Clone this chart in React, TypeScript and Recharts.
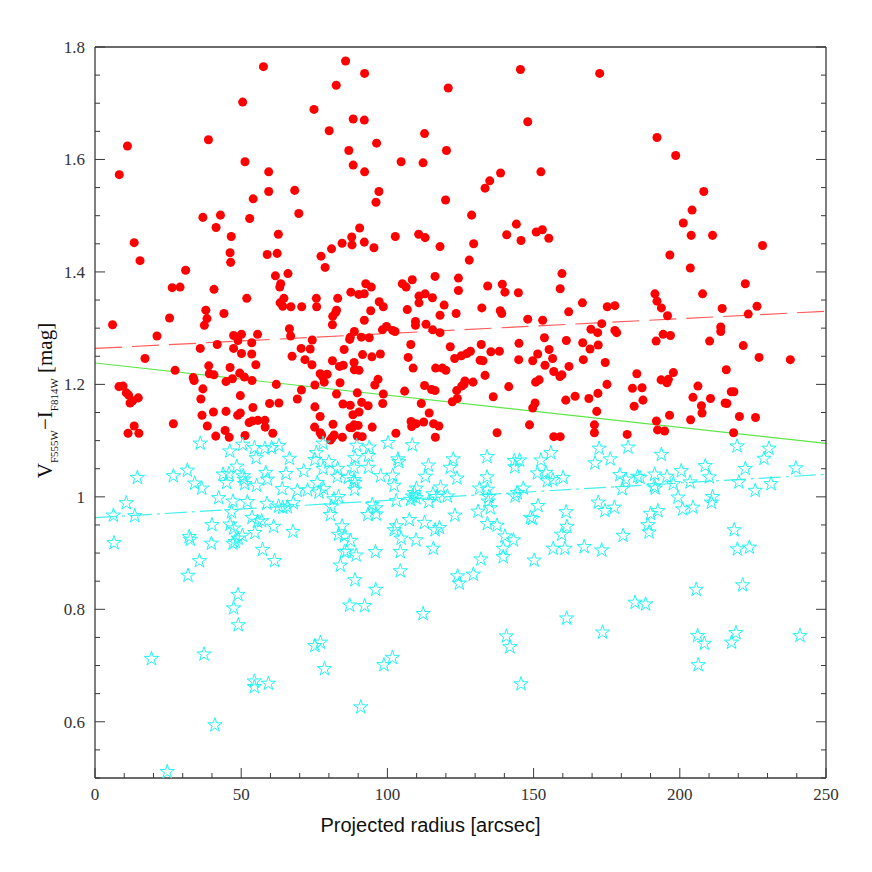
import React from 'react';
import { ScatterChart, Scatter, XAxis, YAxis, ZAxis, ReferenceLine } from 'recharts';

// Red giant branch stars: [projected radius (arcsec), V-I (mag)]
const redStars: [number, number][] = [
  [57.6, 1.765], [85.7, 1.775], [82.5, 1.732], [50.5, 1.702], [74.9, 1.689], [80.1, 1.651], [11.1, 1.624], [38.8, 1.635],
  [8.3, 1.573], [51.3, 1.596], [59.4, 1.578], [59.4, 1.543], [68.3, 1.545], [54.1, 1.53], [69.7, 1.504], [36.9, 1.497],
  [42.9, 1.501], [52.9, 1.495], [41.4, 1.479], [46.6, 1.463], [62.7, 1.467], [13.4, 1.452], [84.5, 1.451], [46.2, 1.434],
  [62.3, 1.433], [58.9, 1.431], [77.3, 1.428], [80.9, 1.441], [15.4, 1.42], [46.4, 1.417], [78.7, 1.408], [31.0, 1.403],
  [61.7, 1.393], [66.0, 1.397], [63.5, 1.379], [63.2, 1.373], [26.4, 1.372], [29.1, 1.373], [40.7, 1.369],
  [92.2, 1.753], [145.5, 1.76], [120.8, 1.727], [88.3, 1.672], [92.1, 1.67], [148.0, 1.667], [112.7, 1.646], [96.3, 1.629],
  [86.8, 1.616], [120.2, 1.616], [104.7, 1.596], [112.2, 1.594], [88.3, 1.59], [92.2, 1.578], [138.7, 1.576], [152.5, 1.578],
  [135.0, 1.562], [133.4, 1.549], [97.1, 1.543], [96.1, 1.524], [119.9, 1.528], [128.8, 1.501], [144.1, 1.485], [90.5, 1.478],
  [87.8, 1.462], [87.9, 1.448], [92.1, 1.453], [95.4, 1.443], [102.7, 1.463], [110.7, 1.467], [112.9, 1.461], [118.0, 1.445],
  [129.5, 1.45], [140.8, 1.466], [145.7, 1.456], [150.9, 1.471], [153.0, 1.475], [155.2, 1.46], [128.0, 1.421], [159.7, 1.397],
  [116.3, 1.392], [124.3, 1.389], [92.6, 1.379], [94.5, 1.373], [105.1, 1.379], [106.4, 1.373], [108.5, 1.386], [124.3, 1.367],
  [134.3, 1.375], [139.3, 1.378], [140.2, 1.364], [144.8, 1.363], [159.1, 1.37], [87.5, 1.364], [90.2, 1.36], [92.1, 1.361],
  [110.8, 1.357], [112.9, 1.361],
  [172.6, 1.753], [192.2, 1.639], [198.6, 1.607], [208.2, 1.543], [204.2, 1.51], [201.2, 1.487], [203.9, 1.465], [211.2, 1.465],
  [228.3, 1.447], [196.6, 1.43], [203.6, 1.407], [222.4, 1.379], [191.5, 1.361], [207.8, 1.361],
  [51.9, 1.353], [63.3, 1.345], [64.2, 1.339], [64.6, 1.353], [67.0, 1.338], [70.7, 1.338], [75.7, 1.353], [75.8, 1.338],
  [83.0, 1.353], [82.6, 1.332], [82.3, 1.328], [81.3, 1.321], [81.2, 1.306], [6.0, 1.306], [37.9, 1.332], [38.3, 1.317],
  [37.4, 1.305], [44.1, 1.326], [25.5, 1.318], [21.2, 1.286], [47.4, 1.287], [50.1, 1.289], [48.9, 1.278], [47.4, 1.264],
  [50.1, 1.255], [55.6, 1.289], [53.6, 1.274], [53.6, 1.254], [55.0, 1.235], [41.8, 1.271], [36.0, 1.264], [66.5, 1.299],
  [66.9, 1.286], [74.3, 1.279], [70.5, 1.264], [73.6, 1.263], [67.4, 1.25], [71.8, 1.244], [74.2, 1.235], [81.2, 1.242],
  [83.6, 1.232], [84.9, 1.234], [85.2, 1.262], [17.1, 1.246], [27.4, 1.225], [38.9, 1.233], [39.1, 1.219], [40.7, 1.217],
  [46.2, 1.23], [49.5, 1.22], [51.1, 1.213], [33.6, 1.212], [33.9, 1.207], [44.8, 1.205], [47.0, 1.21], [53.7, 1.207],
  [62.0, 1.2], [75.2, 1.199], [77.0, 1.219], [77.9, 1.213], [78.4, 1.204], [79.4, 1.218], [83.8, 1.203], [8.2, 1.196],
  [9.6, 1.197], [10.7, 1.185], [11.5, 1.181], [12.0, 1.167], [12.9, 1.171], [14.8, 1.176], [36.9, 1.192], [36.2, 1.174],
  [49.7, 1.18], [69.2, 1.174], [70.6, 1.19], [82.6, 1.183], [62.9, 1.167], [59.7, 1.166], [84.8, 1.165], [75.2, 1.16],
  [54.0, 1.159], [36.6, 1.145], [40.5, 1.151], [44.8, 1.152], [48.8, 1.145], [49.7, 1.149], [77.0, 1.143], [52.7, 1.132],
  [53.8, 1.135], [55.7, 1.136], [58.1, 1.136], [58.2, 1.124], [60.8, 1.113], [75.1, 1.124], [77.0, 1.114], [77.5, 1.11],
  [81.4, 1.129], [81.8, 1.11], [81.1, 1.105], [80.5, 1.101], [84.6, 1.106], [26.8, 1.13], [38.4, 1.126], [44.5, 1.118],
  [41.3, 1.108], [45.9, 1.106], [51.3, 1.109], [13.4, 1.126], [11.3, 1.113], [15.0, 1.113],
  [97.2, 1.347], [98.6, 1.338], [94.3, 1.331], [92.1, 1.314], [106.8, 1.333], [110.8, 1.345], [115.4, 1.354], [119.4, 1.341],
  [118.0, 1.323], [123.5, 1.326], [132.3, 1.336], [138.6, 1.331], [139.1, 1.326], [148.0, 1.316], [153.1, 1.314], [162.0, 1.329],
  [166.7, 1.345], [169.6, 1.298], [109.6, 1.312], [109.6, 1.305], [113.2, 1.307], [115.5, 1.297], [118.0, 1.292], [99.7, 1.303],
  [98.3, 1.297], [101.8, 1.296], [102.6, 1.294], [88.7, 1.294], [87.3, 1.284], [87.1, 1.28], [91.1, 1.284], [93.8, 1.283],
  [153.7, 1.283], [161.2, 1.278], [166.8, 1.274], [145.0, 1.273], [132.1, 1.271], [121.5, 1.267], [108.0, 1.271], [91.5, 1.253],
  [94.7, 1.249], [97.6, 1.254], [107.1, 1.248], [123.0, 1.246], [125.3, 1.251], [127.2, 1.255], [128.4, 1.259], [131.7, 1.243],
  [132.7, 1.242], [135.4, 1.258], [138.3, 1.259], [144.9, 1.244], [149.7, 1.242], [151.4, 1.254], [155.3, 1.262], [156.5, 1.246],
  [153.9, 1.234], [156.9, 1.223], [159.0, 1.214], [159.7, 1.217], [162.1, 1.232], [167.0, 1.244], [169.3, 1.263], [88.6, 1.239],
  [88.7, 1.226], [90.3, 1.225], [108.8, 1.229], [116.5, 1.229], [118.8, 1.229], [120.0, 1.225], [133.4, 1.216], [96.8, 1.209],
  [95.7, 1.199], [112.7, 1.198], [115.1, 1.191], [116.3, 1.189], [105.9, 1.188], [123.7, 1.189], [125.4, 1.197], [126.2, 1.2],
  [126.5, 1.206], [129.3, 1.204], [141.5, 1.196], [150.7, 1.204], [151.9, 1.208], [89.7, 1.185], [98.6, 1.183], [164.2, 1.179],
  [161.0, 1.172], [168.9, 1.175], [136.2, 1.178], [123.9, 1.175], [122.2, 1.169], [111.6, 1.166], [98.4, 1.166], [87.3, 1.163],
  [91.2, 1.168], [93.4, 1.162], [90.3, 1.151], [88.2, 1.146], [150.5, 1.167], [149.7, 1.158], [114.3, 1.149], [108.1, 1.134],
  [109.8, 1.13], [108.3, 1.125], [112.4, 1.133], [115.8, 1.13], [117.6, 1.126], [88.6, 1.128], [90.0, 1.127], [87.2, 1.123],
  [88.0, 1.123], [94.8, 1.124], [89.7, 1.108], [91.4, 1.107], [102.9, 1.113], [116.4, 1.106], [148.6, 1.128], [137.5, 1.114],
  [156.9, 1.107], [159.1, 1.107], [170.8, 1.128], [170.8, 1.114],
  [192.2, 1.348], [193.7, 1.336], [195.8, 1.322], [175.2, 1.338], [177.8, 1.34], [173.3, 1.308], [171.9, 1.292], [172.1, 1.27],
  [177.8, 1.296], [178.4, 1.292], [191.9, 1.277], [194.3, 1.289], [196.8, 1.287], [214.5, 1.335], [214.0, 1.302], [214.0, 1.294],
  [223.4, 1.325], [226.4, 1.339], [210.2, 1.277], [221.7, 1.269], [227.1, 1.248], [237.8, 1.244], [174.5, 1.239], [215.9, 1.226],
  [185.3, 1.219], [197.8, 1.221], [196.1, 1.209], [195.6, 1.203], [193.6, 1.208], [175.1, 1.2], [183.8, 1.193], [187.1, 1.194],
  [172.0, 1.184], [206.2, 1.197], [204.5, 1.177], [210.5, 1.175], [207.4, 1.162], [207.6, 1.149], [217.6, 1.187], [218.5, 1.187],
  [215.5, 1.167], [216.1, 1.166], [187.4, 1.172], [184.4, 1.161], [171.6, 1.152], [196.5, 1.145], [192.0, 1.135], [192.4, 1.119],
  [194.8, 1.117], [203.7, 1.137], [220.4, 1.143], [225.9, 1.141], [182.0, 1.111], [218.4, 1.114],
];

// Blue stars (open cyan stars)
const blueStars: [number, number][] = [
  [36.0, 1.095], [50.5, 1.093], [46.1, 1.081], [54.5, 1.087], [58.1, 1.086], [60.4, 1.087], [62.9, 1.091], [78.0, 1.095],
  [55.1, 1.069], [66.5, 1.068], [75.7, 1.078], [75.2, 1.066], [80.0, 1.062], [78.0, 1.05], [83.0, 1.05], [82.9, 1.036],
  [31.6, 1.047], [14.5, 1.034], [26.8, 1.037], [48.5, 1.054], [43.8, 1.04], [45.8, 1.041], [45.0, 1.025], [50.7, 1.037],
  [51.0, 1.031], [51.2, 1.023], [58.4, 1.043], [59.0, 1.031], [65.3, 1.041], [71.4, 1.046], [55.3, 1.02], [34.1, 1.024],
  [36.5, 1.015], [64.0, 1.014], [69.2, 1.011], [72.7, 1.012], [76.0, 1.025], [76.6, 1.008], [78.2, 1.014], [83.3, 1.0],
  [81.7, 0.996], [42.3, 0.998], [47.2, 0.992], [52.1, 0.991], [58.8, 0.988], [62.8, 0.983], [64.2, 0.981], [65.8, 0.982],
  [67.8, 0.989], [10.7, 0.989], [6.3, 0.967], [13.6, 0.966], [46.7, 0.973], [80.8, 0.983], [80.5, 0.968], [53.7, 0.963],
  [55.6, 0.956], [57.0, 0.957], [61.1, 0.947], [40.0, 0.95], [46.2, 0.951], [47.4, 0.944], [54.7, 0.936], [67.7, 0.938],
  [84.5, 0.948], [83.3, 0.933], [85.3, 0.93], [32.2, 0.929], [32.6, 0.924], [50.4, 0.931], [49.0, 0.926], [47.9, 0.92],
  [6.5, 0.918], [39.8, 0.917], [47.2, 0.917],
  [89.5, 1.091], [93.8, 1.088], [93.5, 1.073], [100.2, 1.096], [108.5, 1.092], [88.9, 1.069], [88.6, 1.052], [93.5, 1.052],
  [103.6, 1.067], [103.9, 1.062], [114.0, 1.056], [122.5, 1.067], [121.5, 1.052], [134.1, 1.071], [143.4, 1.064], [145.2, 1.065],
  [143.6, 1.053], [152.5, 1.065], [155.9, 1.078], [171.0, 1.06], [86.6, 1.034], [88.6, 1.03], [88.9, 1.025], [88.8, 1.013],
  [97.7, 1.037], [101.8, 1.038], [102.3, 1.02], [113.0, 1.036], [123.8, 1.033], [134.1, 1.035], [151.3, 1.042], [154.2, 1.043],
  [154.7, 1.028], [156.6, 1.03], [160.1, 1.034], [109.9, 1.015], [109.2, 1.007], [118.2, 1.017], [115.6, 1.005], [116.8, 1.0],
  [114.2, 0.991], [120.5, 1.001], [108.6, 1.001], [107.9, 0.995], [109.8, 0.998], [103.0, 0.993], [131.5, 1.015], [134.2, 1.013],
  [134.7, 1.0], [134.5, 0.992], [135.2, 0.98], [144.4, 1.007], [143.7, 1.001], [146.5, 1.015], [151.5, 0.984], [94.8, 0.986],
  [96.0, 0.98], [93.3, 0.968], [96.2, 0.969], [123.1, 0.967], [131.0, 0.974], [161.1, 0.973], [148.9, 0.963], [149.6, 0.961],
  [107.5, 0.959], [112.7, 0.954], [134.2, 0.952], [137.5, 0.949], [103.1, 0.948], [102.3, 0.941], [116.3, 0.941], [117.8, 0.945],
  [161.4, 0.947], [159.6, 0.933], [140.2, 0.93], [143.1, 0.923], [104.7, 0.926], [109.8, 0.923], [87.4, 0.922],
  [172.4, 1.086], [176.2, 1.067], [182.3, 1.088], [193.7, 1.075], [219.6, 1.09], [230.5, 1.086], [228.8, 1.068], [222.4, 1.05],
  [239.7, 1.051], [208.7, 1.055], [210.1, 1.035], [200.5, 1.046], [179.5, 1.039], [181.5, 1.031], [180.3, 1.014], [185.6, 1.036],
  [186.4, 1.034], [191.4, 1.04], [191.3, 1.019], [191.6, 1.015], [195.6, 1.036], [197.8, 1.023], [203.5, 1.026], [220.2, 1.026],
  [231.2, 1.023], [225.8, 1.011], [199.4, 0.999], [211.2, 1.0], [210.8, 0.99], [172.1, 0.99], [174.4, 0.975], [177.6, 0.981],
  [201.0, 0.978], [204.5, 0.981], [190.0, 0.97], [192.5, 0.975], [189.1, 0.95], [189.5, 0.937], [218.6, 0.941], [180.6, 0.931],
  [173.3, 0.905], [219.7, 0.907], [223.8, 0.91], [57.3, 0.906], [61.4, 0.886], [35.7, 0.886], [31.8, 0.86], [83.9, 0.878],
  [85.3, 0.902], [48.9, 0.826], [47.4, 0.802], [49.0, 0.772], [19.3, 0.712], [37.3, 0.72], [75.2, 0.735], [77.1, 0.741],
  [78.5, 0.694], [54.5, 0.672], [54.5, 0.662], [59.3, 0.668], [41.0, 0.594], [24.7, 0.511],
  [86.1, 0.903], [89.3, 0.896], [95.9, 0.902], [104.4, 0.902], [115.7, 0.908], [132.0, 0.889], [139.6, 0.908], [139.6, 0.893],
  [150.2, 0.887], [156.7, 0.908], [160.7, 0.908], [167.3, 0.911], [104.4, 0.868], [88.9, 0.852], [96.0, 0.835], [124.0, 0.859],
  [124.6, 0.846], [129.4, 0.862], [87.1, 0.807], [92.2, 0.806], [112.2, 0.792], [161.3, 0.784], [140.7, 0.752], [141.9, 0.733],
  [101.7, 0.714], [98.8, 0.701], [145.7, 0.667], [90.9, 0.626],
  [221.5, 0.843], [205.6, 0.835], [184.7, 0.812], [188.3, 0.809], [173.6, 0.759], [206.1, 0.753], [208.4, 0.739], [219.2, 0.758],
  [217.7, 0.741], [241.1, 0.753], [206.3, 0.701],
];

// linear fits: [radius, colour] end points
const redFit: [number, number][] = [[0, 1.264], [250, 1.33]];
const splitFit: [number, number][] = [[0, 1.238], [250, 1.095]];
const blueFit: [number, number][] = [[0, 0.963], [250, 1.04]];

// axes
const xDomain: [number, number] = [0, 250];
const yDomain: [number, number] = [0.5, 1.8];
const xMajor = [0, 50, 100, 150, 200, 250];
const xTicks = [0, 10, 20, 30, 40, 50, 60, 70, 80, 90, 100, 110, 120, 130, 140, 150, 160, 170, 180, 190, 200, 210, 220, 230, 240, 250];
const yMajor = [0.6, 0.8, 1, 1.2, 1.4, 1.6, 1.8];
const yTicks = [0.5, 0.55, 0.6, 0.65, 0.7, 0.75, 0.8, 0.85, 0.9, 0.95, 1, 1.05, 1.1, 1.15, 1.2, 1.25, 1.3, 1.35, 1.4, 1.45, 1.5, 1.55, 1.6, 1.65, 1.7, 1.75, 1.8];

const toPoints = (arr: [number, number][]) => arr.map(([x, y]) => ({ x, y }));
const isMajor = (list: number[], v: number) => list.some((m) => Math.abs(m - v) < 1e-6);

const FRAME = '#3a3a3a';
const LABEL = '#333';
const serif = '"Liberation Serif", "DejaVu Serif", serif';
const MAJOR_LEN = 10;
const MINOR_LEN = 5;

// ticks point into the plot, like the original
function BottomTick({ x, y, payload }: any) {
  const major = isMajor(xMajor, payload.value);
  return (
    <g>
      <line x1={x} y1={y} x2={x} y2={y - (major ? MAJOR_LEN : MINOR_LEN)} stroke={FRAME} />
      {major && (
        <text x={x} y={y + 10} dy="0.71em" textAnchor="middle" fontFamily={serif} fontSize={17} fill={LABEL}>
          {payload.value}
        </text>
      )}
    </g>
  );
}

function TopTick({ x, y, payload }: any) {
  const major = isMajor(xMajor, payload.value);
  return <line x1={x} y1={y} x2={x} y2={y + (major ? MAJOR_LEN : MINOR_LEN)} stroke={FRAME} />;
}

function LeftTick({ x, y, payload }: any) {
  const major = isMajor(yMajor, payload.value);
  return (
    <g>
      <line x1={x} y1={y} x2={x + (major ? MAJOR_LEN : MINOR_LEN)} y2={y} stroke={FRAME} />
      {major && (
        <text x={x - 10} y={y} dy="0.355em" textAnchor="end" fontFamily={serif} fontSize={17} fill={LABEL}>
          {String(payload.value)}
        </text>
      )}
    </g>
  );
}

function RightTick({ x, y, payload }: any) {
  const major = isMajor(yMajor, payload.value);
  return <line x1={x} y1={y} x2={x - (major ? MAJOR_LEN : MINOR_LEN)} y2={y} stroke={FRAME} />;
}

function XTitle({ viewBox }: any) {
  const cx = viewBox.x + viewBox.width / 2 - 30;
  return (
    <text x={cx} y={viewBox.y + 54} textAnchor="middle" fontFamily='"Liberation Sans", Arial, sans-serif' fontSize={20} fill="#111">
      Projected radius [arcsec]
    </text>
  );
}

function YTitle({ viewBox }: any) {
  const x = viewBox.x + 17;
  const y = viewBox.y + viewBox.height / 2 - 12;
  return (
    <text x={x} y={y} transform={`rotate(-90, ${x}, ${y})`} textAnchor="middle" fontFamily={serif} fontSize={21} fill="#111">
      <tspan>V</tspan>
      <tspan dy={6} fontSize={11}>F555W</tspan>
      <tspan dy={-6}>−I</tspan>
      <tspan dy={6} fontSize={11}>F814W</tspan>
      <tspan dy={-6}> [mag]</tspan>
    </text>
  );
}

const frameLine = { stroke: FRAME, strokeWidth: 1.3 };

export default function App() {
  return (
    <div style={{ position: 'absolute', left: 0, top: 0, width: 872, height: 872, background: '#fff' }}>
      <ScatterChart width={872} height={872} margin={{ top: 46, right: 45, bottom: 64, left: 35 }}>
        <XAxis xAxisId="x" type="number" dataKey="x" domain={xDomain} allowDataOverflow ticks={xTicks} interval={0}
          height={30} tickSize={0} tickMargin={0} axisLine={frameLine} tickLine={false}
          tick={(p: any) => <BottomTick {...p} />}
          label={(p: any) => <XTitle {...p} />} />
        <YAxis yAxisId="y" type="number" dataKey="y" domain={yDomain} allowDataOverflow ticks={yTicks} interval={0}
          width={60} tickSize={0} tickMargin={0} axisLine={frameLine} tickLine={false}
          tick={(p: any) => <LeftTick {...p} />}
          label={(p: any) => <YTitle {...p} />} />
        <XAxis xAxisId="top" type="number" orientation="top" domain={xDomain} allowDataOverflow ticks={xTicks} interval={0}
          height={1} tickSize={0} tickMargin={0} axisLine={frameLine} tickLine={false}
          tick={(p: any) => <TopTick {...p} />} />
        <YAxis yAxisId="right" type="number" orientation="right" domain={yDomain} allowDataOverflow ticks={yTicks} interval={0}
          width={1} tickSize={0} tickMargin={0} axisLine={frameLine} tickLine={false}
          tick={(p: any) => <RightTick {...p} />} />

        <ZAxis zAxisId="red" range={[38, 38]} />
        <ZAxis zAxisId="blue" range={[30, 30]} />

        <Scatter data={toPoints(redStars)} xAxisId="x" yAxisId="y" zAxisId="red" shape="circle" fill="#ff0000" isAnimationActive={false} />
        <Scatter data={toPoints(blueStars)} xAxisId="x" yAxisId="y" zAxisId="blue" shape="star" fill="none" stroke="#22f4f4" strokeWidth={1} isAnimationActive={false} />

        <ReferenceLine xAxisId="x" yAxisId="y" ifOverflow="visible" segment={toPoints(redFit)} stroke="#ff5a5a" strokeWidth={1.2} strokeDasharray="27 10" />
        <ReferenceLine xAxisId="x" yAxisId="y" ifOverflow="visible" segment={toPoints(splitFit)} stroke="#5fe64a" strokeWidth={1.2} />
        <ReferenceLine xAxisId="x" yAxisId="y" ifOverflow="visible" segment={toPoints(blueFit)} stroke="#44eeee" strokeWidth={1.2} strokeDasharray="22 5 3 5" />
      </ScatterChart>
    </div>
  );
}
